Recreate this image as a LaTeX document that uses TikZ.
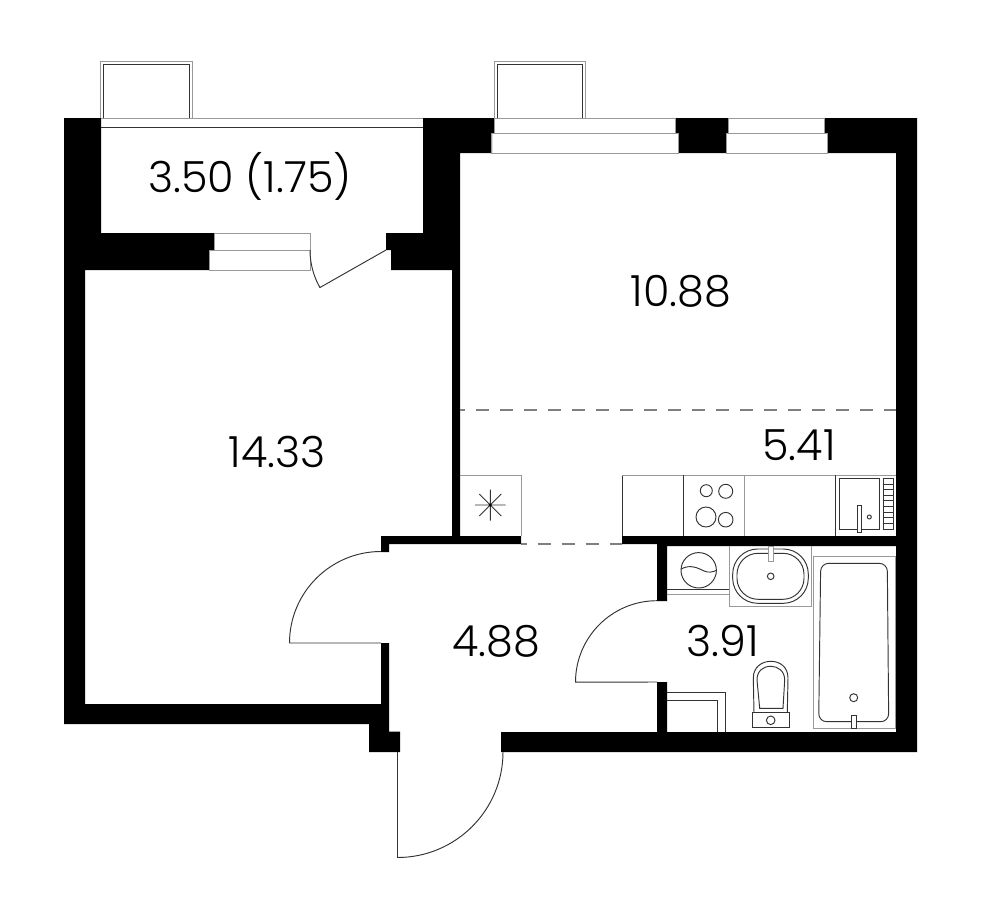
\documentclass[tikz,border=0pt]{standalone}
\usepackage{fontspec}
\setmainfont{Poppins Light}
\tikzset{
	wall/.style={fill=black,draw=none},
	glass/.style={draw=black!40,line width=0.28pt},
	fitting/.style={draw=black!80,line width=0.27pt},
	zoneline/.style={draw=black!50,line width=0.35pt,dash pattern=on 0.13cm off 0.11cm},
	arealabel/.style={font=\fontsize{12.2}{15}\selectfont,inner sep=0pt}
}
\begin{document}
\begin{tikzpicture}[x=0.01cm,y=-0.01cm]
	\useasboundingbox (0,0) rectangle (981,918);
	%%%%% WALLS %%%%%
	\fill[wall] (64,118) -- (101,118) -- (101,233) -- (214,233) -- (214,250) -- (209,250) -- (209,270) -- (85,270) -- (85,704) -- (381,704) -- (381,643) -- (389,643) -- (389,731.5) -- (400,731.5) -- (400,752) -- (369,752) -- (369,724) -- (64,724) -- cycle;
	\fill[wall] (423,118) -- (494,118) -- (494,133) -- (492,133) -- (492,153) -- (460,153) -- (460,536) -- (521,536) -- (521,544) -- (389,544) -- (389,552) -- (381,552) -- (381,536) -- (452,536) -- (452,270) -- (391,270) -- (391,250) -- (386,250) -- (386,233) -- (423,233) -- cycle;
	\fill[wall] (676,118) -- (728,118) -- (728,133) -- (726,133) -- (726,153) -- (678,153) -- (678,133) -- (676,133) -- cycle;
	\fill[wall] (824,118) -- (917,118) -- (917,752) -- (501,752) -- (501,732) -- (657,732) -- (657,682) -- (667,682) -- (667,732) -- (896,732) -- (896,546) -- (667,546) -- (667,601) -- (657,601) -- (657,544) -- (622,544) -- (622,536) -- (896,536) -- (896,153) -- (827,153) -- (827,133) -- (824,133) -- cycle;
	%%%%% BALCONY %%%%%
	\draw[glass] (101,118) -- (423,118);
	\draw[fitting] (101,127.3) -- (423,127.3);
	\draw[glass] (100.7,118) -- (100.7,61.3) -- (192.3,61.3) -- (192.3,118);
	\draw[fitting] (103.7,118) -- (103.7,64.3) -- (189.3,64.3) -- (189.3,118);
	\draw[glass] (494,118) -- (494,61.3) -- (585.7,61.3) -- (585.7,118);
	\draw[fitting] (497.3,118) -- (497.3,64.3) -- (582.7,64.3) -- (582.7,118);
	%%%%% WINDOWS %%%%%
	\draw[glass] (494,118) rectangle (675.7,133);
	\draw[glass] (491.7,133) rectangle (678.3,153);
	\draw[glass] (728,118) rectangle (824,133);
	\draw[glass] (726,133) rectangle (827,153);
	\draw[glass] (214,233) rectangle (310,250);
	\draw[glass] (209,250) rectangle (310,270);
	%%%%% DOORS %%%%%
	\draw[fitting] (310,250) arc (180:150.4:76) -- (386,250);
	\draw[fitting] (381,551.5) arc (270:180:91.5) -- (381,643);
	\draw[fitting] (657,600.7) arc (270:180:81.5) -- (657,682);
	\draw[fitting] (503,752) arc (0:90:105.5) -- (397.5,752);
	%%%%% ZONES %%%%%
	\draw[zoneline,dash phase=0.084cm] (460,410) -- (896,410);
	\draw[zoneline,dash phase=0.073cm] (521,544) -- (622,544);
	%%%%% KITCHEN %%%%%
	\draw[glass] (460,475) -- (521,475) -- (521,536);
	\coordinate (hob) at (490.3,505);
	\draw[fitting] (475,505) -- (505.6,505) (490.3,489.5) -- (490.3,520.5) (479.3,494) -- (501.3,516) (479.3,516) -- (501.3,494);
	\fill (hob) circle (1.4);
	\draw[fitting] (622.3,536) -- (622.3,475);
	\draw[glass] (622.3,475) -- (896,475);
	\draw[fitting] (683.3,475) -- (683.3,536);
	\draw[glass] (744.3,475) -- (744.3,536);
	\draw[fitting] (835.7,475) -- (835.7,536);
	\draw[fitting] (706.3,490.7) circle (6);
	\draw[fitting] (725.7,491.3) circle (7);
	\draw[fitting] (706,517) circle (10);
	\draw[fitting] (725.7,519.7) circle (7.3);
	\draw[fitting] (839.3,478.3) rectangle (879.7,529);
	\draw[fitting] (883.3,478.3) rectangle (893,529);
	\foreach \y in {484,489.6,495.3,500.9,506.5,512.1,517.8,523.4}
		\draw[fitting] (883.3,\y) -- (893,\y);
	\draw[fitting,fill=white] (857.3,505.3) rectangle (861.3,532.3);
	\draw[fitting] (869.3,517) circle (2);
	%%%%% BATHROOM %%%%%
	\draw[fitting] (667,589.3) -- (729.3,589.3);
	\draw[glass] (667,594.3) -- (729.3,594.3);
	\draw[fitting] (698.7,570.3) circle (17.7);
	\draw[fitting] (681.2,569) .. controls (690,564) and (698,568) .. (704,571) .. controls (709,573) and (713,572) .. (716,570.5);
	\draw[glass] (729.3,546) -- (729.3,606.7) -- (811.3,606.7) -- (811.3,546);
	\draw[fitting,rounded corners=2.5mm] (732.7,549) rectangle (808.3,603.3);
	\draw[fitting,rounded corners=2.1mm] (737,553.3) rectangle (804,599.3);
	\draw[glass,fill=white] (768.3,546) rectangle (773,561.3);
	\draw[fitting] (770.7,576.3) circle (3.3);
	\draw[glass] (813,556.3) rectangle (895,728.7);
	\draw[fitting,rounded corners=0.08cm] (820.7,563.3) -- (887.3,563.3) -- (888.7,721.7) -- (818.7,721.7) -- cycle;
	\draw[fitting] (853.7,697.7) circle (4);
	\draw[fitting,fill=white] (851.3,715.3) rectangle (856.7,728.7);
	\draw[fitting] (752.3,712.7) rectangle (789.3,727.7);
	\draw[fitting] (770.7,720.3) circle (4.3);
	\draw[fitting] (754,712.7) -- (753.3,678) .. controls (753.3,667) and (762,661.3) .. (770.7,661.3) .. controls (780,661.3) and (788,667) .. (788,678) -- (787.3,712.7);
	\draw[fitting] (759.7,708.3) -- (757,680) .. controls (757,671) and (763,666.3) .. (770.7,666.3) .. controls (778,666.3) and (784.7,671) .. (784.7,680) -- (783,708.3) -- cycle;
	\draw[fitting] (667,692.3) -- (725.7,692.3) -- (725.7,732);
	\draw[fitting] (667,700) -- (717.7,700) -- (717.7,732);
	%%%%% AREAS %%%%%
	\node[arealabel] (balconyarea) at (250,176) {3.50 (1.75)};
	\node[arealabel] (livingarea) at (681,291) {10.88};
	\node[arealabel] (kitchenarea) at (799,445) {5.41};
	\node[arealabel] (bedroomarea) at (277,452) {14.33};
	\node[arealabel] (hallarea) at (496,641) {4.88};
	\node[arealabel] (bathroomarea) at (723,641) {3.91};
\end{tikzpicture}
\end{document}
